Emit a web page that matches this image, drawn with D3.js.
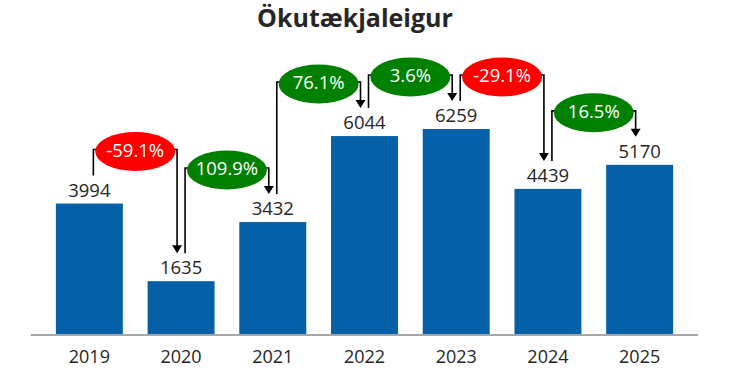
<!DOCTYPE html>
<html>
<head>
<meta charset="utf-8">
<script src="https://cdn.jsdelivr.net/npm/d3@7"></script>
<style>
  html, body { margin: 0; padding: 0; background: #fff; }
  svg { display: block; }
</style>
</head>
<body>
<svg id="chart" width="732" height="377"></svg>
<script>
const title = "Ökutækjaleigur";
const years = ["2019", "2020", "2021", "2022", "2023", "2024", "2025"];
const values = [3994, 1635, 3432, 6044, 6259, 4439, 5170];
const changes = ["-59.1%", "109.9%", "76.1%", "3.6%", "-29.1%", "16.5%"];

const svg = d3.select("#chart");
const baseY = 335;

const x = d3.scaleBand().domain(years).range([43.5, 685.5]).paddingInner(0.27).paddingOuter(0.135);
const y = d3.scaleLinear().domain([0, 7000]).range([baseY, baseY - 230.4]);

const font = "'Open Sans', 'Noto Sans', sans-serif";

// title
svg.append("text")
  .attr("x", 355).attr("y", 27)
  .attr("text-anchor", "middle")
  .attr("font-family", font)
  .attr("font-weight", "bold")
  .attr("font-size", 25)
  .attr("fill", "#262626")
  .text(title);

// bars
svg.append("g").selectAll("rect")
  .data(values)
  .join("rect")
  .attr("x", (d, i) => x(years[i]))
  .attr("width", x.bandwidth())
  .attr("y", d => y(d))
  .attr("height", d => baseY - y(d))
  .attr("fill", "#0560A8");

// baseline
svg.append("line")
  .attr("x1", 31).attr("x2", 698)
  .attr("y1", baseY).attr("y2", baseY)
  .attr("stroke", "#A6A6A6").attr("stroke-width", 2);

// x axis labels
const xAxis = d3.axisBottom(x).tickSize(0).tickPadding(15);
const gx = svg.append("g").attr("transform", `translate(0,${baseY})`).call(xAxis);
gx.select(".domain").remove();
gx.selectAll("text")
  .attr("font-family", font)
  .attr("font-size", 18)
  .attr("fill", "#262626");

// value labels
svg.append("g").selectAll("text")
  .data(values)
  .join("text")
  .attr("x", (d, i) => x(years[i]) + x.bandwidth() / 2)
  .attr("y", d => y(d) - 7)
  .attr("text-anchor", "middle")
  .attr("font-family", font)
  .attr("font-size", 18.5)
  .attr("fill", "#262626")
  .text(d => d);

// change connectors
const cx = i => x(years[i]) + x.bandwidth() / 2;
const anchor = i => y(values[i]) - 28;
const conn = svg.append("g");
changes.forEach((lab, i) => {
  const x0 = cx(i) + 4, x1 = cx(i + 1) - 4;
  const a0 = anchor(i), a1 = anchor(i + 1);
  const level = Math.min(a0, a1) - 26;
  conn.append("path")
    .attr("d", `M${x0},${a0} V${level} H${x1} V${a1 - 7}`)
    .attr("fill", "none")
    .attr("stroke", "#000")
    .attr("stroke-width", 1.6);
  conn.append("path")
    .attr("d", `M${x1},${a1} L${x1 - 5},${a1 - 8} L${x1 + 5},${a1 - 8} Z`)
    .attr("fill", "#000");
  const mx = (cx(i) + cx(i + 1)) / 2;
  const neg = lab.trim().startsWith("-");
  conn.append("ellipse")
    .attr("cx", mx).attr("cy", level + 2)
    .attr("rx", 40).attr("ry", 19.5)
    .attr("fill", neg ? "#FF0000" : "#008000");
  conn.append("text")
    .attr("x", mx).attr("y", level + 7)
    .attr("text-anchor", "middle")
    .attr("font-family", font)
    .attr("font-size", 18.5)
    .attr("fill", "#fff")
    .text(lab);
});
</script>
</body>
</html>
